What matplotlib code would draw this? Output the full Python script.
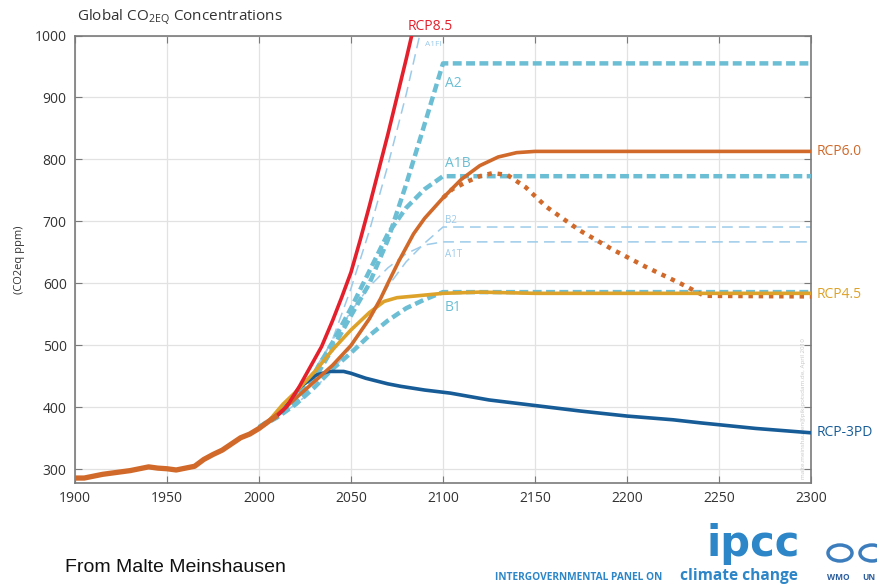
import matplotlib
matplotlib.use("Agg")
import matplotlib.pyplot as plt
from matplotlib.patches import Circle

plt.rcParams['font.family'] = ['Open Sans', 'DejaVu Sans']
plt.rcParams['mathtext.default'] = 'regular'

# ---------------- data ----------------
hist_years = [1900, 1905, 1910, 1915, 1920, 1925, 1930, 1935, 1940, 1945, 1950, 1955,
              1960, 1965, 1970, 1975, 1980, 1985, 1990, 1995, 2000, 2005, 2010]
hist_vals = [286, 286, 289, 292, 294, 296, 298, 301, 304, 302, 301, 299,
             302, 305, 316, 324, 331, 341, 351, 357, 366, 377, 387]

rcp85_years = [2005, 2010, 2015, 2022, 2034, 2040, 2045, 2050, 2055, 2060, 2070, 2080, 2083, 2090]
rcp85_vals = [377, 387, 401, 434, 498, 540, 578, 618, 670, 725, 840, 962, 1000, 1090]

rcp60_years = [2005, 2013, 2020, 2031, 2040, 2050, 2060, 2066, 2070, 2076, 2084, 2090,
               2100, 2110, 2120, 2130, 2140, 2150, 2300]
rcp60_vals = [377, 396, 415, 444, 468, 500, 543, 575, 600, 636, 680, 705,
              738, 768, 790, 804, 811, 813, 813]

rcp60os_years = [2100, 2105, 2113, 2120, 2127, 2135, 2145, 2156, 2174, 2192, 2210, 2229, 2242, 2300]
rcp60os_vals = [738, 752, 764, 773, 778, 775, 755, 724, 686, 655, 627, 600, 580, 579]

rcp45_years = [2005, 2013, 2020, 2031, 2040, 2050, 2060, 2068, 2075, 2086, 2100, 2120, 2150, 2300]
rcp45_vals = [377, 405, 425, 460, 493, 525, 553, 571, 577, 580, 584, 586, 584, 584]

rcp3_years = [2005, 2013, 2022, 2031, 2038, 2046, 2050, 2058, 2070, 2077, 2090, 2104,
              2125, 2150, 2175, 2200, 2225, 2240, 2270, 2300]
rcp3_vals = [377, 395, 432, 452, 458, 458, 455, 447, 438, 434, 428, 423,
             412, 403, 394, 386, 380, 375, 366, 359]

sres_years = [2000, 2010, 2020, 2030, 2040, 2050, 2060, 2070, 2080, 2090, 2100, 2300]
a2_vals = [368, 385, 408, 445, 495, 548, 600, 670, 760, 857, 955, 955]
a1b_vals = [368, 388, 415, 455, 505, 560, 620, 680, 722, 752, 773, 773]
b1_vals = [368, 384, 405, 432, 462, 488, 516, 540, 560, 574, 586, 586]
a1fi_years = [2000, 2010, 2020, 2030, 2040, 2050, 2060, 2070, 2080, 2090]
a1fi_vals = [368, 388, 413, 452, 510, 592, 685, 790, 905, 1035]
a1t_vals = [368, 390, 420, 460, 508, 555, 595, 625, 648, 662, 667, 667]
b2_vals = [368, 385, 405, 430, 460, 497, 545, 595, 635, 665, 691, 691]

xticks = [1900, 1950, 2000, 2050, 2100, 2150, 2200, 2250, 2300]
yticks = [300, 400, 500, 600, 700, 800, 900, 1000]

# ---------------- colours ----------------
c_red = '#E3202B'
c_orange = '#D0692A'
c_gold = '#DDA229'
c_blue = '#175C97'
c_teal = '#6BBED3'
c_light = '#9CCBEA'

fig = plt.figure(figsize=(8.78, 5.84), dpi=100)
ax = fig.add_axes([75/878, 1-483/584, (811-75)/878, (483-35.5)/584])

ax.set_xlim(1900, 2300)
ax.set_ylim(278, 1000)
ax.set_xticks(xticks)
ax.set_yticks(yticks)
ax.grid(True, color='#E2E2E2', lw=0.9)
ax.set_axisbelow(True)
for s in ax.spines.values():
    s.set_color('#7A7A7A')
    s.set_linewidth(1.2)
ax.tick_params(direction='in', top=True, right=True, length=5, color='#7A7A7A',
               labelsize=10, labelcolor='#333333', pad=6)

# thin dashed SRES
ax.plot(a1fi_years, a1fi_vals, color=c_light, lw=1.1, dashes=(7, 4), zorder=2)
ax.plot(sres_years, a1t_vals, color=c_light, lw=1.1, dashes=(7, 4), zorder=2)
ax.plot(sres_years, b2_vals, color=c_light, lw=1.1, dashes=(7, 4), zorder=2)
# thick dashed SRES
for v in (a2_vals, a1b_vals, b1_vals):
    ax.plot(sres_years, v, color=c_teal, lw=3.2, dashes=(2.0, 1.0), zorder=3)

# RCPs
ax.plot(rcp3_years, rcp3_vals, color=c_blue, lw=2.6, zorder=4, solid_capstyle='butt')
ax.plot(rcp45_years, rcp45_vals, color=c_gold, lw=2.6, zorder=5)
ax.plot(rcp60os_years, rcp60os_vals, color=c_orange, lw=3.2, dashes=(1.0, 1.3), zorder=4)
ax.plot(rcp60_years, rcp60_vals, color=c_orange, lw=2.6, zorder=5)
ax.plot(rcp85_years, rcp85_vals, color=c_red, lw=2.6, zorder=5)
ax.plot(hist_years, hist_vals, color=c_orange, lw=3.8, zorder=6, solid_capstyle='butt')

# labels
ax.text(2081, 1003, 'RCP8.5', color=c_red, fontsize=10, ha='left', va='bottom', clip_on=False)
ax.text(2090, 985, 'A1FI', color=c_light, fontsize=6, ha='left', va='center')
ax.text(2101, 922, 'A2', color=c_teal, fontsize=10, ha='left', va='center')
ax.text(2101, 782, 'A1B', color=c_teal, fontsize=10, ha='left', va='bottom')
ax.text(2101, 692, 'B2', color=c_light, fontsize=7, ha='left', va='bottom')
ax.text(2101, 656, 'A1T', color=c_light, fontsize=7, ha='left', va='top')
ax.text(2101, 574, 'B1', color=c_teal, fontsize=10, ha='left', va='top')
ax.text(2303, 813, 'RCP6.0', color=c_orange, fontsize=10, ha='left', va='center', clip_on=False)
ax.text(2303, 582, 'RCP4.5', color=c_gold, fontsize=10, ha='left', va='center', clip_on=False)
ax.text(2303, 359, 'RCP-3PD', color=c_blue, fontsize=10, ha='left', va='center', clip_on=False)
ax.text(2296, 285, 'malte.meinshausen@pik-potsdam.de, April 2010', color='#C8C8C8',
        fontsize=4.5, rotation=90, ha='center', va='bottom')

ax.set_ylabel('(CO2eq ppm)', fontsize=8, color='#333333')
ax.yaxis.set_label_coords(-(75 - 25) / 736, 0.5)

fig.text(77/878, 1-17/584, 'Global CO$_{2EQ}$ Concentrations', fontsize=11,
         color='#333333', ha='left', va='center')

fig.text(65/878, 1-567/584, 'From Malte Meinshausen', fontsize=14,
         family=['Liberation Sans', 'DejaVu Sans'], color='#111111', ha='left', va='center')

# logo text
c_ipcc = '#2C86C8'
fig.text(800/878, 1-556/584, 'ipcc', fontsize=30, fontweight='bold', color=c_ipcc,
         ha='right', va='baseline', family=['DejaVu Sans'])
fig.text(495/878, 1-580/584, 'INTERGOVERNMENTAL PANEL ON', fontsize=7.3, fontweight='bold',
         color=c_ipcc, ha='left', va='baseline')
fig.text(798/878, 1-580/584, 'climate change', fontsize=11.2, fontweight='bold',
         color=c_ipcc, ha='right', va='baseline')
for cx in (840, 872):
    fig.patches.append(Circle((cx/878, 1-553/584), 12/878, transform=fig.transFigure,
                              facecolor='none', edgecolor='#3C7DBE', lw=2.5))
fig.text(838/878, 1-580/584, 'WMO', fontsize=6, fontweight='bold', color='#2C5E9E',
         ha='center', va='baseline')
fig.text(862/878, 1-580/584, 'UN', fontsize=6, fontweight='bold', color='#2C5E9E',
         ha='left', va='baseline')

fig.savefig('out.png', dpi=100)
